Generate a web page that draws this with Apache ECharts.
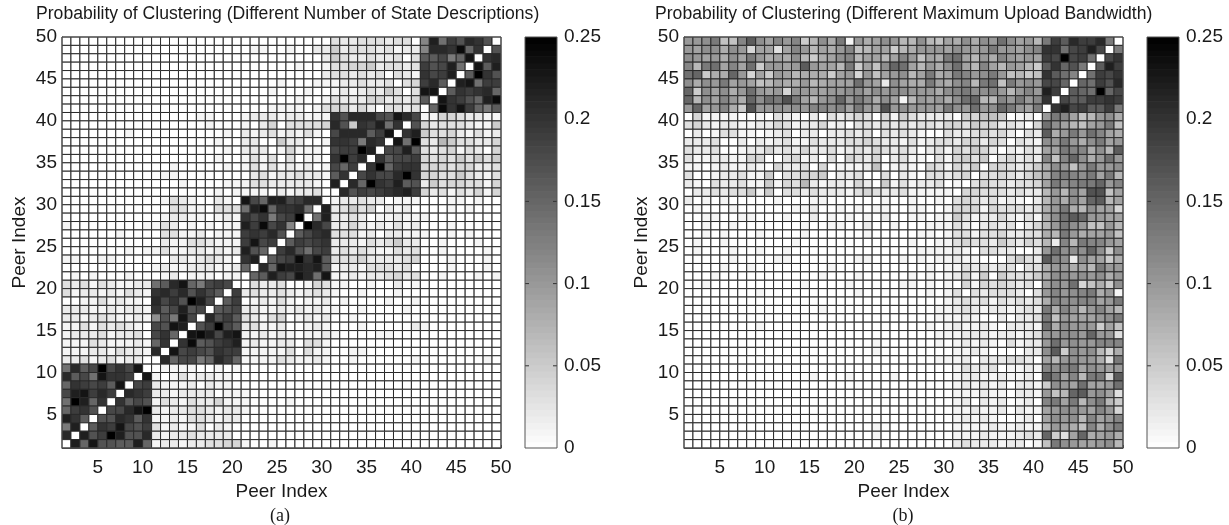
<!DOCTYPE html>
<html><head><meta charset="utf-8">
<style>html,body{margin:0;padding:0;background:#fff}#c{width:1229px;height:525px}</style>
<script src="https://cdn.jsdelivr.net/npm/echarts@6/dist/echarts.min.js"></script>
</head><body><div id="c"></div>
<script>
// One letter per cell, a=0.00, b=0.01 ... z=0.25.
// Rows run from peer 49 (top) down to peer 1; columns from peer 1 to peer 49.
const titleA = 'Probability of Clustering (Different Number of State Descriptions)';
const titleB = 'Probability of Clustering (Different Maximum Upload Bandwidth)';
const peerTicks = [5,10,15,20,25,30,35,40,45,50];
const probTicks = [0,0.05,0.1,0.15,0.2,0.25];
const rowsA = [
"aaaaaaaaaa aaaaaaaaaa aaaaaaaaaa dccdddcdda mwotrvura",
"aaaaaaaaaa aaaaaaaaaa abbaabaacc fcdddcdbcc mvvuypuar",
"aaaaaaaaaa aaaaaaaaaa aaaaaaaaac fdccdccdad qqsnpxauv",
"aaaaaaaaaa aaaaaaaaaa aaaaaabaab ddeefcddcd trswoaxqw",
"aaaaaaaaaa aaaaaaaaaa aaaaaaaaac ddcdcdadcb ustwaqzur",
"aaaaaaaaaa aaaaaaaaaa aaaabaaabb bccdccdade tvqawxott",
"aaaaaaaaaa aaaaaaaaaa aaabaaabaa bcbcdcfdad xxaqutuvp",
"aaaaaaaaaa aaaaaaaaaa aaaaaabaab dccceecdce qaxutrpwy",
"aaaaaaaaaa aaaaaaaaaa aaabbbbabd eececaddcd apyuxtpnq",
"aaaaaaaaaa aaaaabbaaa bcccbccbbb urvvvsrxvs bbeedccbb",
"aaaaaaaaaa aaaaaabaaa baceadddde vrfutwouar ecdddcbbf",
"aaaaaaabaa aaaaaaaaba cbcdbcbdba svvvqtxauw fddecbdbc",
"aaaaaaaaaa aaaaaaabaa ccaafccaab uutnvuaxoz dchfddcce",
"aaaaaaaaaa aaaaaaaaba cccabebbba sttzwasswq dcdebdcae",
"aaaaaaaaaa aaaaaaabaa bdbdadabba uztvauqsst ededfdfdf",
"aaaaaaaaaa aabaaaaaba bdbdbcbcab sptauzptuu eeedeeccd",
"aaaaaaaaaa abbaaaaaaa acdbccdccb quasussvzu eeddfdcbd",
"aaaaaaaaaa aaabaaaabb bddcccccba wavpzutwqr cfdeeddbe",
"aaaaaaaaaa aaaaaaabab bbbacbccda avrtstuvwt ecdbdcebe",
"aaaaaaaaaa abdcbaacba xspwwstvva bccdccabbb aaabbabaa",
"aaaaaaaaaa aaddbbaddd owypuuvoaw cdfdeacbca aaababaaa",
"aaaaaaaaaa abccbbabcb usunstzaow ccdcabbcbb baaaaaaaa",
"baaaaaaaab bdcabababb wtysumazvs ccecbcbdbc aaabaaaaa",
"aaaaaabaaa addbbcabbb tutvraqsuv dddbcaccbb baababaaa",
"aaaaaaaaaa acbbddcbbb txstaqtstu cccbdcdfcc aabaaabaa",
"aaaaaaabab bdbbccbcbc wrpatvrost cdcdcbbdcd aabaaaaba",
"bbaabbaaaa aaccbcdcba uwaqstyuxq dddeccccde aaabaaaba",
"aaaaaaaaaa bcbbcccbbc pavpxwwvwq bccbdddcda aaabaaaba",
"ababaaabaa abcabbbabb apqwtsxvox bbcbccdecd aabaaabab",
"dcdbdcbbcc oqvxpnstsa adccdaabed bbaabaacab aaaaaaaaa",
"dbccbcbdcb uvtvrusqat cdccdcbcdc baabaaabaa aaaaaaaaa",
"aabbdbcbba vsurzwsaqt abcbdbabbc abaaaabaab aaaaaaaaa",
"cccbbcbccb uqswrsaqrs ccbbcbcbcb baabaaaaba aaaaaaaaa",
"ccbcdcbbcb lrnxsavrtq dcbdeabcbc aabaaaaaaa aaaaaaaaa",
"bbdbdcdcba srxwartzsq cdbbcaabcb aaabaaaaac baaaaaaaa",
"bcccdbccda supaxywswx bbcbcbabbc baaaabbaaa aaaaaaaaa",
"bbbdcbbbcb puauyqrtuw bcbbccaddb aaaaaaaaaa aaaaaaaaa",
"bbbccbdccb vaxstsrutt bbbbbdadbb aabbaaaaaa aaaaaaaaa",
"ccdbcdbcca avpssnpvtp bbbbdcbbcb aabaaaaaab aaaaaaaba",
"ovqszsusxa abbbbaabab aaaaaaaaaa aaaaaaaaaa aaaaaaaaa",
"vqsoxuutax babdbccbba aaaaaaaaaa aaaaaaaaaa aaaaaaaaa",
"putstqxast cbbbcacbba aaaaaaaaaa aaaaaaaaaa aaaaaaaaa",
"swxtvtavut ccbccccabb baaaaaaaaa aaaaaaaaaa aaaaaaaaa",
"ozwpuauqsr bdcbdccebb baaaabaaaa aaaaaaaaaa aaaaaaaaa",
"pturassvxz cbccddcbcc baaaaaaaaa aaaaaaaaaa aaaaaaaaa",
"wuqarrvuqu bbcbddcbcc aaaaaaaaaa aaaaaaaaaa aaaaaaaaa",
"nwaqutxsrt dbcbbdacba aaaaaaaaaa aaaaaaaaaa aaaaaaaaa",
"vawrtzwrrv cbccdcccca aaaaaaaaaa aaaaaaaaaa aaaaaaaaa",
"awpxrrqqwp bccbccddee baabaaaaaa aaaaaaaaaa aaaaaaaaa"
];
const rowsB = [
"kklnggmqlj mkmfhlinbk ijlkhhlhgj ililkoljkh ntqvttvna",
"kjllilkejj djmkhjikmg hjjfhikkkj lkjknkkjlm uuostwsan",
"lkjkiljnki jilhfijlmh jjhjmkgjin ojhkimkjkj tszstoasu",
"mhnojmjofk kjkqkjjhnf jglpojhkil ojhmjhkjhf quprnaqwt",
"opfiipkejf kjhiiifjke kgjklhjnij nmklnkghfg uqomaotsu",
"lilknjkjgh jiikhijjjo kjcljiinji lmhnognklk sspapotrv",
"pfljlikokj kekkjjkkll jlkllkkkil mnllmkhkmk wtaqpozps",
"phljmkiplo nrnjhklpkn liljbhkjki lophhmknkm uasqqttut",
"kpjkmifrkk lklkmmlmjn kjrklkkkjn lkoklpnkjn auwstqqtn",
"aebbbbaaba dcbacadcde daebfdcccc afeggfabca knmjghkli",
"decbccbbcc edbccebcad dcdcdcddce edfeecdcae oljhgjkng",
"acabddbbab cdaccaccdc dadcdcbaad ccdedecadc qiknkomji",
"cccdaacacb cdbbdcccdd edccbdbcdd ceecedadcb lknkilnjk",
"dccdaabcce cdceccdbcd cedcdcacdb edfecacbdc jjnmmilhq",
"dbbccbbeea adebcadaed ceacdbbadb efdfadecdc mgmplikok",
"bbabcbbcba eccdaeabbb cgabcbaedb edfaeedcdf ilkgknkkl",
"daabccdbbf addeefaccd aadacbaddc deaddedceg imnmlnjnh",
"cbadccdbbf bedhcbccbe cafbdbccda badeddcdde jnlmnnpkm",
"accdcddfbf addcdcccbd edccdbbbbb aeedddcdcc hkhljrrgj",
"cababaaaaa baaabbaaaa aabaabaaba dedcdbcbac hkiljpqhj",
"abaaabaaaa aabbcaabab abbaabbaab eeebedddcd iknihljje",
"aabbaabbaa abaacababa bacaabbabb fdbccecbdb iloqpkkjj",
"aabaabaaaa aaabaabbaa caabaaabbb dcacdcdace hknlkggkh",
"aababaaaba aaabaaaaaa baaaaabbab ddbddeccdd ihnkijjkg",
"abaabaaaaa aabaaaaaaa aaaaabaabb deddcfdced hcmhnmmkj",
"abaaabaaba abaaaaaaaa aaaaaabbbb cbaddccaac kolllplfl",
"aaaaabaaaa bbaaaaaaab baaabababb cbbaaadfdc qmlcljjfi",
"aaaabaabaa aaaaaabaaa aaaaaaabab bdcdcddadd ikkijhnkk",
"aaabaaaaaa aaaaabaaab aaaaababab cebfafdddf illklklik",
"aabaaaaaaa aaabaaaaba aaaabbabab aebededcda jlkoegifl",
"aaaaaaaaba aaaaaaaaab aaaaaaabab dadcdddcad kmklmnikb",
"aaaaaaaaaa aaaaaaaaaa aaaaaaaaab cdcdbdcdcd imllmmjkn",
"aaaaaaaaaa aaaaabaaaa aaaaaaaabb cdcbccbcdc nimkhkmjh",
"aaaaaaaaaa aaaaaaaaaa aaaaaaaabb bcbaacaccd ngkjjjkln",
"aaaaaaaaba aaaaaaaaaa aaaaaaabab cbbcbacccb oilkkkfjg",
"aaaaaaaaaa aaaaaaaaaa aaaaaaaabb bcccbccbcd kkllkpkkd",
"aaaaaaaaaa aaaaaaaaaa abaaaaaaba bcbcbadbcc koklkkmmm",
"aaaaaaaaaa aaaaaaaaaa abaaaaaaaa bbcbaaaacc lqflklhei",
"aaaaaaaaaa aaaaaaaaaa aaaaaaaabb bcacccddca jhklkkidn",
"aaaaaaaaaa aaaaaaaaaa aaaaaaaaaa bdccdabbcb mlmnjlkjk",
"aaaaaaaaaa aaaabaaaba aaabaaaaaa bccbbcbbca qnjmhnneq",
"aaaaaaaaaa aaaaaaaaaa aaaaaaaaaa bcbcbcaccb flkjojjko",
"aaaaaaaaaa aaaaaaaaaa aaaaaaaaaa bbbcbbaccb kghpqkljd",
"aaaaaaaaaa aaaaaaaaaa aaaaaaaaaa bcacbcabca mnjnhlnhf",
"aaaaaaaaaa aaaaaaaaaa aaaaaaaaaa bbcbbcacbb jkllkjmke",
"aaaaaaaaaa aaaaaaaaaa aaaaaaaaaa bcbcbaabca jlklhmjkm",
"aaaaaaaaaa aaaaaaaaaa abaaaaaaaa bbbbcbbcbb hkjigmiln",
"aaaaaaaaaa aaaaaaaaaa abaaaaaaaa bbbcbbbcdc pfdjpijki",
"aaaaaaaaaa aaaaaaaaaa aaaaaaaaaa cdcccbccab gnlkjjklh"
];
const colorbarLevels = Array.from({length:64},(_,k)=>k);

function cells(rows){
  const out=[];
  rows.forEach((r,ri)=>{
    const y=49-ri;
    r.replace(/ /g,'').split('').forEach((ch,ci)=>{
      out.push([ci+1,y,(ch.charCodeAt(0)-97)/100]);
    });
  });
  return out;
}
const FONT='"Liberation Sans"';
const INK='#1a1a1a', FRAME='#555';
const renderCell=(p,api)=>{
  const a=api.coord([api.value(0),api.value(1)]);
  const b=api.coord([api.value(0)+1,api.value(1)+1]);
  return {type:'rect',shape:{x:a[0],y:b[1],width:b[0]-a[0],height:a[1]-b[1]},
    style:{fill:api.visual('color'),stroke:'#2a2a2a',lineWidth:1}};
};
const renderLevel=(p,api)=>{
  const k=api.value(0);
  const a=api.coord([0,k*0.25/64]);
  const b=api.coord([1,(k+1)*0.25/64]);
  return {type:'rect',shape:{x:a[0],y:b[1],width:b[0]-a[0],height:a[1]-b[1]+0.6},
    style:{fill:api.visual('color')}};
};
const renderBarTick=(p,api)=>{
  const a=api.coord([0,api.value(0)]), b=api.coord([1,api.value(0)]);
  const st={stroke:'#333',lineWidth:1};
  return {type:'group',children:[
    {type:'line',shape:{x1:a[0],y1:a[1],x2:a[0]+4,y2:a[1]},style:st},
    {type:'line',shape:{x1:b[0]-4,y1:b[1],x2:b[0],y2:b[1]},style:st}
  ]};
};
const peerAxis=(gi,extra)=>{
  const base={type:'value',gridIndex:gi,min:1,max:50,
    splitLine:{show:false},
    name:'Peer Index',nameLocation:'middle',
    nameTextStyle:{fontFamily:FONT,fontSize:19,color:INK},
    axisLine:{show:true,lineStyle:{color:FRAME,width:1}},
    axisTick:{show:true,inside:true,length:3,customValues:peerTicks,lineStyle:{color:FRAME}}};
  return Object.assign(base,{nameGap:extra.nameGap,
    axisLabel:{show:true,customValues:peerTicks,fontFamily:FONT,fontSize:19,color:INK,margin:extra.margin,hideOverlap:false}});
};
const barX=gi=>({type:'value',gridIndex:gi,min:0,max:1,show:false});
const barY=gi=>({type:'value',gridIndex:gi,position:'right',min:0,max:0.25,interval:0.05,
  splitLine:{show:false},
  axisLine:{show:false},
  axisTick:{show:false},
  axisLabel:{fontFamily:FONT,fontSize:19,color:INK,margin:7,formatter:v=>String(+v.toFixed(2))}});
const frame={show:true,borderColor:FRAME,borderWidth:1,backgroundColor:'transparent',z:10};
const titleStyle={fontFamily:FONT,fontSize:17.6,fontWeight:'normal',color:INK};
const capStyle={fontFamily:'"Liberation Serif"',fontSize:18,fontWeight:'normal',color:INK};

const option={
  animation:false,backgroundColor:'#fff',
  title:[
    {text:titleA,left:36,top:5,padding:0,textStyle:titleStyle},
    {text:titleB,left:655,top:5,padding:0,textStyle:titleStyle},
    {text:'(a)',left:280,top:507,padding:0,textAlign:'center',textStyle:capStyle},
    {text:'(b)',left:903,top:507,padding:0,textAlign:'center',textStyle:capStyle}
  ],
  grid:[
    Object.assign({left:62,top:37,width:439,height:411},frame),
    Object.assign({left:525,top:37,width:32,height:411},frame),
    Object.assign({left:684,top:37,width:439,height:411},frame),
    Object.assign({left:1147,top:37,width:32,height:411},frame)
  ],
  xAxis:[
    peerAxis(0,{nameGap:25,margin:10}),barX(1),peerAxis(2,{nameGap:25,margin:10}),barX(3)
  ],
  yAxis:[
    peerAxis(0,{nameGap:33,margin:5}),barY(1),
    peerAxis(2,{nameGap:33,margin:5}),barY(3)
  ],
  visualMap:{show:false,type:'continuous',min:0,max:0.25,dimension:2,seriesIndex:[0,1,2,3],
    inRange:{color:['#ffffff','#000000']}},
  series:[
    {type:'custom',xAxisIndex:0,yAxisIndex:0,renderItem:renderCell,encode:{x:0,y:1},data:cells(rowsA),silent:true},
    {type:'custom',xAxisIndex:1,yAxisIndex:1,renderItem:renderLevel,encode:{x:1,y:2},
      data:colorbarLevels.map(k=>[k,0.5,(k+0.5)*0.25/64]),silent:true},
    {type:'custom',xAxisIndex:2,yAxisIndex:2,renderItem:renderCell,encode:{x:0,y:1},data:cells(rowsB),silent:true},
    {type:'custom',xAxisIndex:3,yAxisIndex:3,renderItem:renderLevel,encode:{x:1,y:2},
      data:colorbarLevels.map(k=>[k,0.5,(k+0.5)*0.25/64]),silent:true},
    {type:'custom',xAxisIndex:1,yAxisIndex:1,renderItem:renderBarTick,encode:{y:0},data:probTicks.slice(1,-1).map(v=>[v]),silent:true,z:5},
    {type:'custom',xAxisIndex:3,yAxisIndex:3,renderItem:renderBarTick,encode:{y:0},data:probTicks.slice(1,-1).map(v=>[v]),silent:true,z:5}
  ]
};
echarts.init(document.getElementById('c'),null,{renderer:'canvas'}).setOption(option);
</script></body></html>
